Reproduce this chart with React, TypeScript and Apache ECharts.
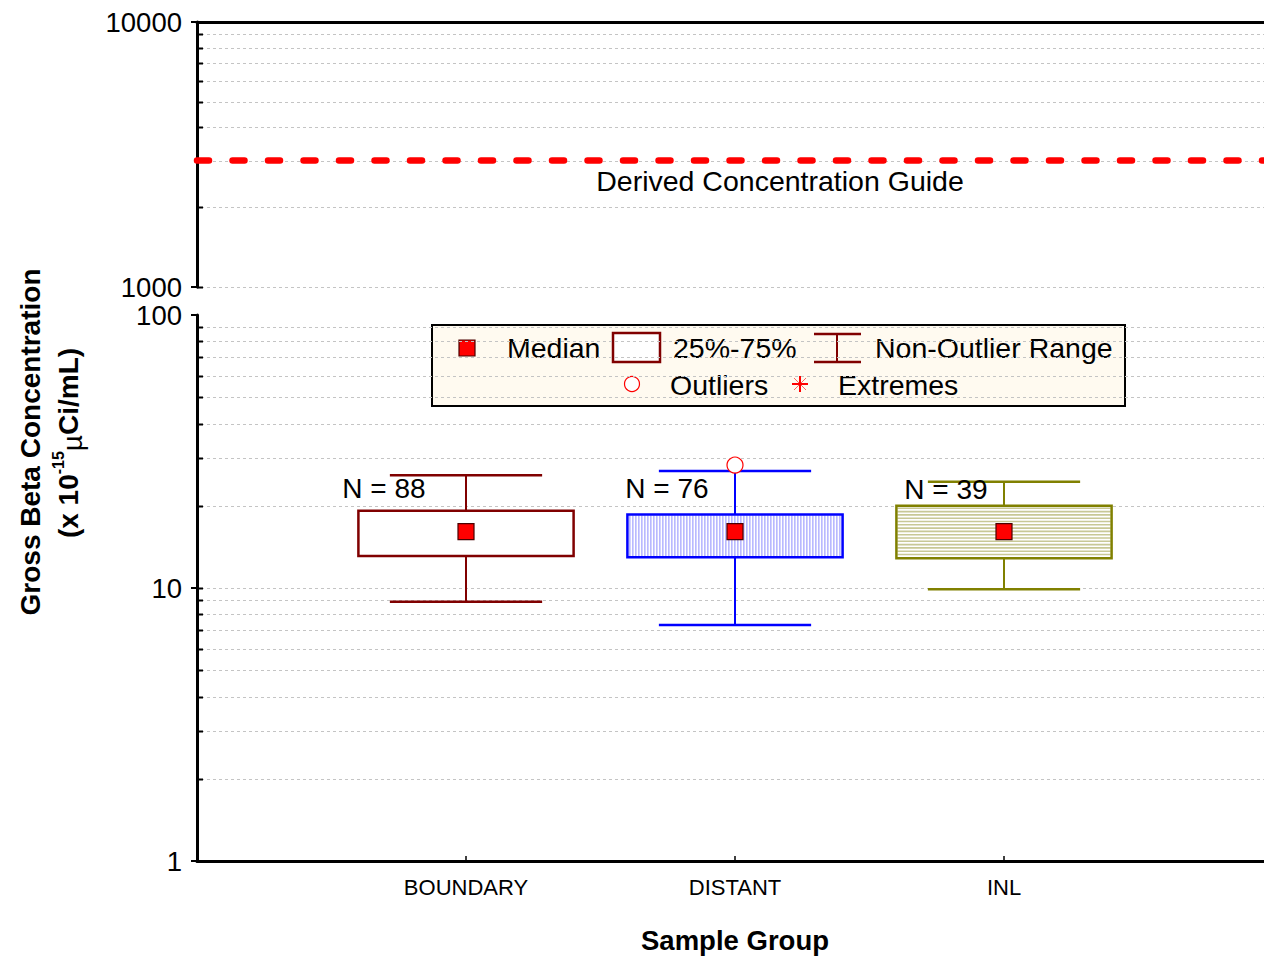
import React, { useEffect, useRef } from "react";
import * as echarts from "echarts";

// ---------- data ----------
const CATEGORIES = ["BOUNDARY", "DISTANT", "INL"];
const N_COUNTS = [88, 76, 39];
const WHISKER_LOW = [8.9, 7.32, 9.9];
const Q1 = [13.1, 12.96, 12.85];
const MEDIAN = [16.1, 16.1, 16.1];
const Q3 = [19.2, 18.6, 20.0];
const WHISKER_HIGH = [25.9, 26.8, 24.5];
const OUTLIER_GROUP = [2]; // DISTANT
const OUTLIER_VALUE = [28.2];
const N_LABEL_AT = [23.2, 23.2, 22.9];
const DCG = 3000;
const LOWER_TICKS = [1, 10, 100];
const UPPER_TICKS = [1000, 10000];
const LOWER_GRIDLINES = [2, 3, 4, 5, 6, 7, 8, 9, 10, 20, 30, 40, 50, 60, 70, 80, 90];
const UPPER_GRIDLINES = [1000, 2000, 3000, 4000, 5000, 6000, 7000, 8000, 9000];

// ---------- styles ----------
const FONT = "'Liberation Sans', Arial, Helvetica, sans-serif";
const BOX_COLORS = ["#800000", "#0000ff", "#808000"];
const HATCH = ["none", "vertical", "horizontal"];
const HATCH_COLORS = ["", "#8c8cff", "#c8c896"];
const N_LABEL_DX = [-82, -68, -58];

function gridLineRender(params: any, api: any) {
  const cs = params.coordSys;
  const p = api.coord([0, api.value(1)]);
  const y = Math.round(p[1]) + 0.5;
  return {
    type: "group",
    children: [
      {
        type: "line",
        shape: { x1: cs.x + 4, y1: y, x2: cs.x + cs.width, y2: y },
        style: { stroke: "#c4c4c4", lineWidth: 1, lineDash: [3, 3] },
        silent: true,
      },
      {
        type: "line",
        shape: { x1: cs.x, y1: y, x2: cs.x + 6, y2: y },
        style: { stroke: "#000", lineWidth: 2 },
        silent: true,
      },
    ],
  };
}

function boxRender(params: any, api: any) {
  const i = params.dataIndex;
  const x = api.value(0);
  const lo = api.value(1);
  const q1 = api.value(2);
  const med = api.value(3);
  const q3 = api.value(4);
  const hi = api.value(5);
  const col = BOX_COLORS[i];
  const c = (xx: number, yy: number) => api.coord([xx, yy]);
  const cx = c(x, med)[0];
  const yHi = c(x, hi)[1];
  const yQ3 = c(x, q3)[1];
  const yMed = c(x, med)[1];
  const yQ1 = c(x, q1)[1];
  const yLo = c(x, lo)[1];
  const bl = c(x - 0.4, med)[0];
  const br = c(x + 0.4, med)[0];
  const cl = c(x - 0.283, med)[0];
  const cr = c(x + 0.283, med)[0];
  const children: any[] = [];
  children.push({
    type: "rect",
    shape: { x: bl, y: yQ3, width: br - bl, height: yQ1 - yQ3 },
    style: { fill: "#fff", stroke: null },
  });
  if (HATCH[i] === "vertical") {
    for (let xx = bl + 2.5; xx < br - 1; xx += 3) {
      children.push({
        type: "line",
        shape: { x1: xx, y1: yQ3 + 1, x2: xx, y2: yQ1 - 1 },
        style: { stroke: HATCH_COLORS[i], lineWidth: 1 },
      });
    }
  } else if (HATCH[i] === "horizontal") {
    for (let yy = yQ3 + 2.5; yy < yQ1 - 1; yy += 3.3) {
      children.push({
        type: "line",
        shape: { x1: bl + 1, y1: yy, x2: br - 1, y2: yy },
        style: { stroke: HATCH_COLORS[i], lineWidth: 1.6 },
      });
    }
  }
  children.push({
    type: "rect",
    shape: { x: bl, y: yQ3, width: br - bl, height: yQ1 - yQ3 },
    style: { fill: null, stroke: col, lineWidth: 2.5 },
  });
  children.push(
    { type: "line", shape: { x1: cx, y1: yHi, x2: cx, y2: yQ3 }, style: { stroke: col, lineWidth: 2 } },
    { type: "line", shape: { x1: cx, y1: yQ1, x2: cx, y2: yLo }, style: { stroke: col, lineWidth: 2 } },
    { type: "line", shape: { x1: cl, y1: yHi, x2: cr, y2: yHi }, style: { stroke: col, lineWidth: 2.5 } },
    { type: "line", shape: { x1: cl, y1: yLo, x2: cr, y2: yLo }, style: { stroke: col, lineWidth: 2.5 } },
    {
      type: "rect",
      shape: { x: cx - 8, y: yMed - 8, width: 16, height: 16 },
      style: { fill: "#ff0000", stroke: "#4a0000", lineWidth: 1.2 },
    }
  );
  const yLab = c(x, N_LABEL_AT[i])[1];
  children.push({
    type: "text",
    x: cx + N_LABEL_DX[i],
    y: yLab,
    style: {
      text: "N = " + N_COUNTS[i],
      align: "center",
      verticalAlign: "middle",
      font: "28px " + FONT,
      fill: "#000",
    },
    z2: 10,
  });
  return { type: "group", children };
}

export default function App() {
  const ref = useRef<HTMLDivElement>(null);
  useEffect(() => {
    if (!ref.current) return;
    const chart = echarts.init(ref.current, undefined, { renderer: "svg" });
    const gridLeft = 197;
    const gridWidth = 1076;
    const axisLineStyle = { color: "#000", width: 3 };
    const yLabelBase = {
      fontSize: 27.5,
      fontFamily: FONT,
      color: "#000",
      margin: 15,
      formatter: (v: number) => String(Math.round(v)),
    };
    const option: any = {
      animation: false,
      backgroundColor: "#fff",
      grid: [
        { left: gridLeft, top: 22, width: gridWidth, height: 265, containLabel: false, outerBoundsMode: "none" },
        { left: gridLeft, top: 315, width: gridWidth, height: 546, containLabel: false, outerBoundsMode: "none" },
      ],
      xAxis: [
        {
          gridIndex: 0,
          type: "value",
          min: 0,
          max: 4,
          position: "top",
          axisLine: { show: true, onZero: false, lineStyle: axisLineStyle },
          axisTick: { show: false },
          axisLabel: { show: false },
          splitLine: { show: false },
        },
        {
          gridIndex: 1,
          type: "value",
          min: 0,
          max: 4,
          interval: 1,
          position: "bottom",
          axisLine: { show: true, onZero: false, lineStyle: axisLineStyle },
          axisTick: {
            show: true,
            inside: true,
            length: 5,
            customValues: [1, 2, 3],
            lineStyle: { color: "#000", width: 1.5 },
          },
          axisLabel: {
            show: true,
            customValues: [1, 2, 3],
            fontSize: 22,
            fontFamily: FONT,
            color: "#000",
            margin: 15,
            formatter: (v: number) => CATEGORIES[Math.round(v) - 1] || "",
          },
          splitLine: { show: false },
        },
      ],
      yAxis: [
        {
          gridIndex: 0,
          type: "log",
          logBase: 10,
          min: UPPER_TICKS[0],
          max: UPPER_TICKS[UPPER_TICKS.length - 1],
          axisLine: { show: true, onZero: false, lineStyle: axisLineStyle },
          axisTick: { show: true, inside: false, length: 6, lineStyle: { color: "#000", width: 2 } },
          axisLabel: { ...yLabelBase, padding: [0, 0, 4, 0] },
          splitLine: { show: false },
          minorTick: { show: false },
        },
        {
          gridIndex: 1,
          type: "log",
          logBase: 10,
          min: LOWER_TICKS[0],
          max: LOWER_TICKS[LOWER_TICKS.length - 1],
          axisLine: { show: true, onZero: false, lineStyle: axisLineStyle },
          axisTick: { show: true, inside: false, length: 6, lineStyle: { color: "#000", width: 2 } },
          axisLabel: { ...yLabelBase, padding: [4, 0, 0, 0] },
          splitLine: { show: false },
          minorTick: { show: false },
        },
      ],
      series: [
        {
          type: "custom",
          name: "upper-grid",
          xAxisIndex: 0,
          yAxisIndex: 0,
          data: UPPER_GRIDLINES.map((v) => [0, v]),
          renderItem: gridLineRender,
          encode: { x: 0, y: 1 },
          silent: true,
          z: 1,
        },
        {
          type: "custom",
          name: "lower-grid",
          xAxisIndex: 1,
          yAxisIndex: 1,
          data: LOWER_GRIDLINES.map((v) => [0, v]),
          renderItem: gridLineRender,
          encode: { x: 0, y: 1 },
          silent: true,
          z: 1,
        },
        {
          type: "line",
          name: "Derived Concentration Guide",
          xAxisIndex: 0,
          yAxisIndex: 0,
          data: [
            [0, DCG],
            [4, DCG],
          ],
          symbol: "none",
          lineStyle: { color: "#ff0000", width: 6.5, type: [12, 23.5], cap: "round" },
          z: 4,
        },
        {
          type: "custom",
          name: "boxes",
          xAxisIndex: 1,
          yAxisIndex: 1,
          data: CATEGORIES.map((_, i) => [i + 1, WHISKER_LOW[i], Q1[i], MEDIAN[i], Q3[i], WHISKER_HIGH[i]]),
          encode: { x: 0, y: [1, 2, 3, 4, 5] },
          renderItem: boxRender,
          z: 3,
        },
        {
          type: "scatter",
          name: "Outliers",
          xAxisIndex: 1,
          yAxisIndex: 1,
          data: OUTLIER_GROUP.map((g, i) => [g, OUTLIER_VALUE[i]]),
          symbol: "circle",
          symbolSize: 16,
          itemStyle: { color: "#fff", borderColor: "#ff0000", borderWidth: 1.2, opacity: 1 },
          z: 5,
        },
      ],
      graphic: [
        {
          type: "text",
          x: 780,
          y: 181,
          style: {
            text: "Derived Concentration Guide",
            align: "center",
            verticalAlign: "middle",
            font: "28.5px " + FONT,
            fill: "#000",
          },
          z: 20,
        },
        {
          type: "text",
          x: 735,
          y: 940,
          style: {
            text: "Sample Group",
            align: "center",
            verticalAlign: "middle",
            font: "bold 27.5px " + FONT,
            fill: "#000",
          },
          z: 20,
        },
        {
          type: "text",
          x: 30,
          y: 442,
          rotation: Math.PI / 2,
          style: {
            text: "Gross Beta Concentration",
            align: "center",
            verticalAlign: "middle",
            font: "bold 28px " + FONT,
            fill: "#000",
          },
          z: 20,
        },
        {
          type: "text",
          x: 68,
          y: 443,
          rotation: Math.PI / 2,
          style: {
            text: "{a|(x 10}{s|-15}{m|\u00b5}{a|Ci/mL)}",
            align: "center",
            verticalAlign: "middle",
            fill: "#000",
            rich: {
              a: { fontSize: 28, fontWeight: "bold", fontFamily: FONT, lineHeight: 36, verticalAlign: "middle" },
              s: { fontSize: 16, fontWeight: "bold", fontFamily: FONT, lineHeight: 36, verticalAlign: "top" },
              m: { fontSize: 28, fontWeight: "normal", fontFamily: FONT, lineHeight: 36, verticalAlign: "bottom" },
            },
          },
          z: 20,
        },
        // legend
        {
          type: "group",
          z: 30,
          children: [
            {
              type: "rect",
              shape: { x: 432, y: 325, width: 693, height: 81 },
              style: { fill: "#fffaf0", stroke: "#000", lineWidth: 2 },
            },
            {
              type: "rect",
              shape: { x: 459, y: 340, width: 16, height: 16 },
              style: { fill: "#ff0000", stroke: "#4a0000", lineWidth: 1.2 },
            },
            {
              type: "text",
              x: 507,
              y: 348,
              style: { text: "Median", verticalAlign: "middle", font: "28.5px " + FONT, fill: "#000" },
            },
            {
              type: "rect",
              shape: { x: 613, y: 333, width: 47, height: 29 },
              style: { fill: "#fff", stroke: "#800000", lineWidth: 2.5 },
            },
            {
              type: "text",
              x: 673,
              y: 348,
              style: { text: "25%-75%", verticalAlign: "middle", font: "28.5px " + FONT, fill: "#000" },
            },
            { type: "line", shape: { x1: 814, y1: 334, x2: 861, y2: 334 }, style: { stroke: "#800000", lineWidth: 2.5 } },
            { type: "line", shape: { x1: 814, y1: 362, x2: 861, y2: 362 }, style: { stroke: "#800000", lineWidth: 2.5 } },
            { type: "line", shape: { x1: 837, y1: 334, x2: 837, y2: 362 }, style: { stroke: "#800000", lineWidth: 2 } },
            {
              type: "text",
              x: 875,
              y: 348,
              style: { text: "Non-Outlier Range", verticalAlign: "middle", font: "28.5px " + FONT, fill: "#000" },
            },
            {
              type: "circle",
              shape: { cx: 632, cy: 384, r: 7.5 },
              style: { fill: "#fff", stroke: "#ff0000", lineWidth: 1.2 },
            },
            {
              type: "text",
              x: 670,
              y: 385,
              style: { text: "Outliers", verticalAlign: "middle", font: "28.5px " + FONT, fill: "#000" },
            },
            { type: "line", shape: { x1: 800, y1: 376, x2: 800, y2: 392 }, style: { stroke: "#ff0000", lineWidth: 2 } },
            { type: "line", shape: { x1: 792, y1: 384, x2: 808, y2: 384 }, style: { stroke: "#ff0000", lineWidth: 2 } },
            { type: "line", shape: { x1: 794, y1: 378, x2: 806, y2: 390 }, style: { stroke: "#ff0000", lineWidth: 1, opacity: 0.6 } },
            { type: "line", shape: { x1: 806, y1: 378, x2: 794, y2: 390 }, style: { stroke: "#ff0000", lineWidth: 1, opacity: 0.6 } },
            {
              type: "text",
              x: 838,
              y: 385,
              style: { text: "Extremes", verticalAlign: "middle", font: "28.5px " + FONT, fill: "#000" },
            },
          ],
        },
      ],
    };
    chart.setOption(option);
    return () => {
      chart.dispose();
    };
  }, []);
  return (
    <div
      ref={ref}
      style={{ position: "absolute", left: 0, top: 0, width: 1264, height: 958, background: "#fff" }}
    />
  );
}
